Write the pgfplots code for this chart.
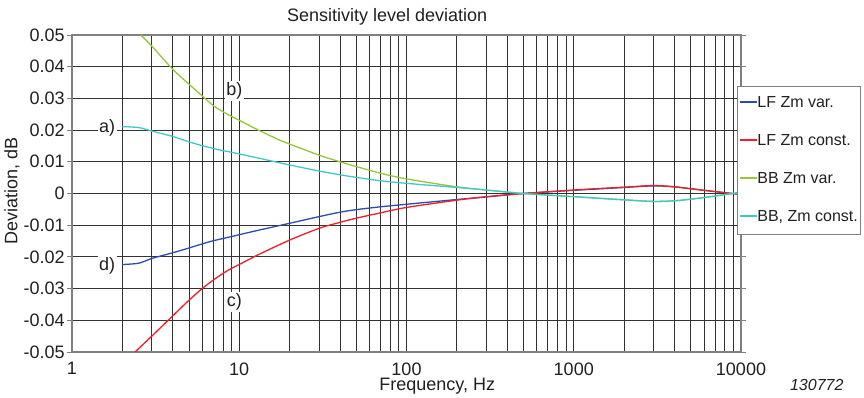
\documentclass[border=0pt]{standalone}
\usepackage{fontspec}
\setmainfont{Liberation Sans}
\usepackage{pgfplots}
\pgfplotsset{compat=1.18}

\definecolor{cblue}{RGB}{46,76,170}
\definecolor{cred}{RGB}{236,32,40}
\definecolor{cgreen}{RGB}{150,198,60}
\definecolor{ccyan}{RGB}{64,200,200}
\definecolor{txt}{RGB}{35,31,32}
\newcommand{\legline}[1]{\textcolor{#1}{\rule[4.9pt]{17pt}{1.6pt}}}

\begin{document}
\begin{tikzpicture}[x=1pt,y=1pt]
\path[use as bounding box] (-72,-46) rectangle (792,352);
\begin{axis}[
  at={(0pt,0pt)}, anchor=south west,
  scale only axis, width=669pt, height=317pt,
  xmode=log, xmin=1, xmax=10000, ymin=-0.05, ymax=0.05,
  scaled y ticks=false,
  xtick={1,10,100,1000,10000}, xticklabels={1,10,100,1000,10000},
  minor xtick={2,3,4,5,6,7,8,9,20,30,40,50,60,70,80,90,200,300,400,500,600,700,800,900,2000,3000,4000,5000,6000,7000,8000,9000},
  ytick={-0.05,-0.04,-0.03,-0.02,-0.01,0,0.01,0.02,0.03,0.04,0.05},
  yticklabels={-0.05,-0.04,-0.03,-0.02,-0.01,0,0.01,0.02,0.03,0.04,0.05},
  xmajorgrids, xminorgrids, ymajorgrids,
  major grid style={black!80, line width=0.8pt},
  minor grid style={black!80, line width=0.8pt},
  axis line style={gray, line width=1.2pt},
  tick align=outside,
  ytick style={gray, line width=0.8pt, /pgfplots/major tick length=5pt},
  xtick style={draw=none, /pgfplots/major tick length=0pt, /pgfplots/minor tick length=0pt},
  yticklabel style={font=\fontsize{18}{20}\selectfont, text=txt, inner sep=0pt, xshift=-3pt},
  xticklabel style={font=\fontsize{18}{20}\selectfont, text=txt, inner sep=0pt, yshift=-6pt},
  title={Sensitivity level deviation},
  title style={at={(axis description cs:0.471,1)}, anchor=base, yshift=7pt, font=\fontsize{18}{20}\selectfont, text=txt},
  xlabel={Frequency, Hz},
  xlabel style={at={(axis description cs:0.546,0)}, anchor=base, yshift=-39pt, font=\fontsize{18}{20}\selectfont, text=txt},
  ylabel={Deviation, dB},
  ylabel style={at={(axis description cs:-0.0815,0.509)}, anchor=base, font=\fontsize{18}{20}\selectfont, text=txt},
  legend cell align=left,
  legend image code/.code={},
  legend style={at={(axis description cs:0.994,0.839)}, anchor=north west, draw=gray, fill=white, line width=0.8pt,
    font=\fontsize{16}{18}\selectfont, inner xsep=3pt, inner ysep=9.5pt, row sep=23pt,
    nodes={inner sep=0pt, text height=12pt, text depth=3pt},
    /tikz/every odd column/.append style={column sep=0pt},
    /tikz/every even column/.append style={column sep=0pt}},
  every axis plot/.append style={line width=1.3pt, smooth, tension=0.5},
]
\addplot[color=cblue] coordinates {
(2,-0.0224) (2.5,-0.0220) (3,-0.0205) (4,-0.0187) (5,-0.0172) (6,-0.0159) (7,-0.0149) (8,-0.0142)
(10,-0.0130) (13,-0.0116) (20,-0.0094) (30,-0.0073) (40,-0.0059) (50,-0.0051) (70,-0.0042)
(100,-0.0034) (200,-0.0019) (300,-0.0011) (500,0.0000) (1000,0.0010) (2000,0.0019) (3000,0.0024)
(4000,0.0021) (5000,0.0015) (7000,0.0006) (10000,-0.0003)};
\addlegendentry{\legline{cblue}\textcolor{txt}{LF Zm var.}}
\addplot[color=cred] coordinates {
(2.38,-0.0500) (3,-0.0450) (4,-0.0386) (5,-0.0337) (6,-0.0300) (7,-0.0273) (8,-0.0252) (9,-0.0236)
(10,-0.0224) (13,-0.0193) (20,-0.0147) (30,-0.0110) (40,-0.0091) (50,-0.0078) (70,-0.0061)
(100,-0.0044) (200,-0.0021) (300,-0.0010) (500,0.0000) (1000,0.0011) (2000,0.0020) (3000,0.0025)
(4000,0.0021) (5000,0.0015) (7000,0.0006) (10000,-0.0003)};
\addlegendentry{\legline{cred}\textcolor{txt}{LF Zm const.}}
\addplot[color=cgreen] coordinates {
(2.58,0.0500) (3,0.0465) (4,0.0392) (5,0.0345) (6,0.0308) (7,0.0277) (8,0.0258) (9,0.0243)
(10,0.0231) (13,0.0200) (17.5,0.0168) (20,0.0156) (30,0.0121) (40,0.0100) (50,0.0085) (70,0.0064)
(100,0.0046) (200,0.0021) (300,0.0011) (500,0.0000) (1000,-0.0010) (2000,-0.0020) (3000,-0.0025)
(4000,-0.0023) (5000,-0.0018) (7000,-0.0008) (10000,0.0004)};
\addlegendentry{\legline{cgreen}\textcolor{txt}{BB Zm var.}}
\addplot[color=ccyan] coordinates {
(2,0.0211) (2.5,0.0208) (3,0.0197) (4,0.0180) (5,0.0163) (6,0.0151) (7,0.0142) (8,0.0135)
(10,0.0125) (20,0.0090) (30,0.0071) (40,0.0059) (50,0.0051) (70,0.0040)
(100,0.0032) (200,0.0019) (300,0.0011) (500,0.0000) (1000,-0.0010) (2000,-0.0020) (3000,-0.0025)
(4000,-0.0023) (5000,-0.0018) (7000,-0.0008) (10000,0.0004)};
\addlegendentry{\legline{ccyan}\textcolor{txt}{BB, Zm const.}}
\node[fill=white, inner sep=1.5pt, text=txt, font=\fontsize{18}{20}\selectfont] at (axis cs:1.62,0.0207) {a)};
\node[fill=white, inner sep=1.5pt, text=txt, font=\fontsize{18}{20}\selectfont] at (axis cs:9.36,0.0323) {b)};
\node[fill=white, inner sep=1.5pt, text=txt, font=\fontsize{18}{20}\selectfont] at (axis cs:9.36,-0.0342) {c)};
\node[fill=white, inner sep=1.5pt, text=txt, font=\fontsize{18}{20}\selectfont] at (axis cs:1.62,-0.0229) {d)};
\end{axis}
\node[anchor=base east, text=txt, font=\fontsize{16}{18}\selectfont\itshape] at (775,-39) {130772};
\end{tikzpicture}
\end{document}
